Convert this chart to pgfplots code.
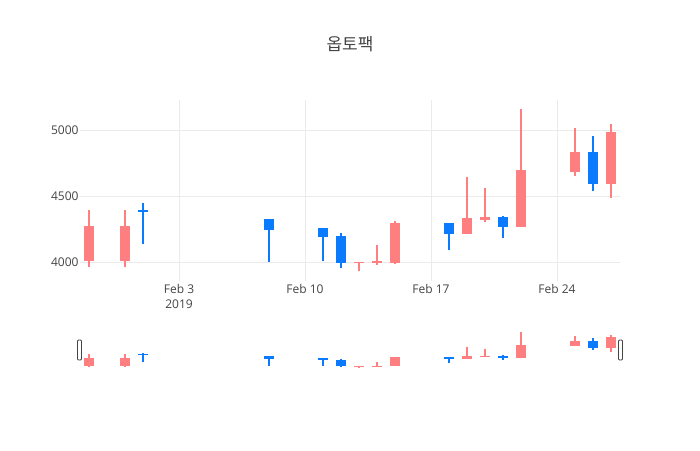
\documentclass[border=0pt]{standalone}
\usepackage{fontspec}
\setmainfont{Open Sans}
\newfontfamily\krfont{Noto Sans CJK KR}
\usepackage{pgfplots}
\pgfplotsset{compat=1.18}
\usepackage{pgfplotstable}

\definecolor{incr}{HTML}{FF7F80}
\definecolor{decr}{HTML}{0A7BFF}
\definecolor{txt}{HTML}{444444}
\definecolor{gridc}{HTML}{EBEBEB}

% day of year, open, high, low, close
\pgfplotstableread{
d  o    h    l    c
29 4005 4395 3960 4275
31 4005 4395 3960 4275
44 3994 4003 3929 4003
45 3992 4129 3977 4007
46 3990 4313 3983 4298
50 4214 4640 4214 4332
51 4320 4559 4302 4340
53 4264 5159 4264 4698
56 4685 5018 4652 4836
58 4594 5048 4481 4985
}\incdata
\pgfplotstableread{
d  o    h    l    c
32 4392 4446 4138 4375
39 4325 4325 4000 4245
42 4255 4255 4005 4190
43 4200 4220 3955 3990
49 4297 4297 4093 4214
52 4337 4350 4181 4264
57 4836 4955 4534 4594
}\decdata

\pgfplotsset{
  candles/.style={
    scale only axis, width=540pt,
    xmin=28.5, xmax=58.5, ymin=3856, ymax=5227,
    axis line style={draw=none}, tick style={draw=none},
    ticklabel style={font=\fontsize{12}{15}\selectfont, text=txt},
    /pgf/number format/assume math mode=true,
    /pgf/number format/1000 sep={},
  },
  wick/.style={draw=none, mark=none, forget plot,
    error bars/.cd, y dir=both, y explicit, error mark=none,
    error bar style={draw=#1, line width=1.6pt}},
  body/.style={draw=none, mark=none, forget plot,
    error bars/.cd, y dir=both, y explicit, error mark=none,
    error bar style={draw=#1, line width=10.5pt}},
}

\newcommand{\candleplots}{%
  \addplot[wick=incr] table[x=d, y expr=(\thisrow{h}+\thisrow{l})/2, y error expr=(\thisrow{h}-\thisrow{l})/2] {\incdata};
  \addplot[body=incr] table[x=d, y expr=(\thisrow{o}+\thisrow{c})/2, y error expr=abs(\thisrow{c}-\thisrow{o})/2] {\incdata};
  \addplot[wick=decr] table[x=d, y expr=(\thisrow{h}+\thisrow{l})/2, y error expr=(\thisrow{h}-\thisrow{l})/2] {\decdata};
  \addplot[body=decr] table[x=d, y expr=(\thisrow{o}+\thisrow{c})/2, y error expr=abs(\thisrow{c}-\thisrow{o})/2] {\decdata};
}

\begin{document}
\begin{tikzpicture}[x=1pt, y=1pt]
  \fill[white] (0,0) rectangle (700,450);
  \node[text=txt, font=\krfont\fontsize{17}{20}\selectfont] at (350,406) {옵토팩};

  \begin{axis}[candles,
    at={(80pt,169pt)}, anchor=south west, height=181pt,
    grid=major, major grid style={draw=gridc, line width=0.9pt},
    xtick={34,41,48,55},
    xticklabels={Feb 3\\2019, Feb 10, Feb 17, Feb 24},
    xticklabel style={align=center},
    ytick={4000,4500,5000},
    yticklabel style={xshift=2pt},
  ]
    \candleplots
  \end{axis}

  \begin{axis}[candles,
    at={(80pt,80pt)}, anchor=south west, height=40.5pt,
    xtick=\empty, ytick=\empty,
  ]
    \candleplots
  \end{axis}

  % range slider grabbers
  \draw[txt, line width=0.9pt, fill=white, rounded corners=1pt] (77.5,90) rectangle (81.5,110);
  \draw[txt, line width=0.9pt, fill=white, rounded corners=1pt] (618.5,90) rectangle (622.5,110);
\end{tikzpicture}
\end{document}
